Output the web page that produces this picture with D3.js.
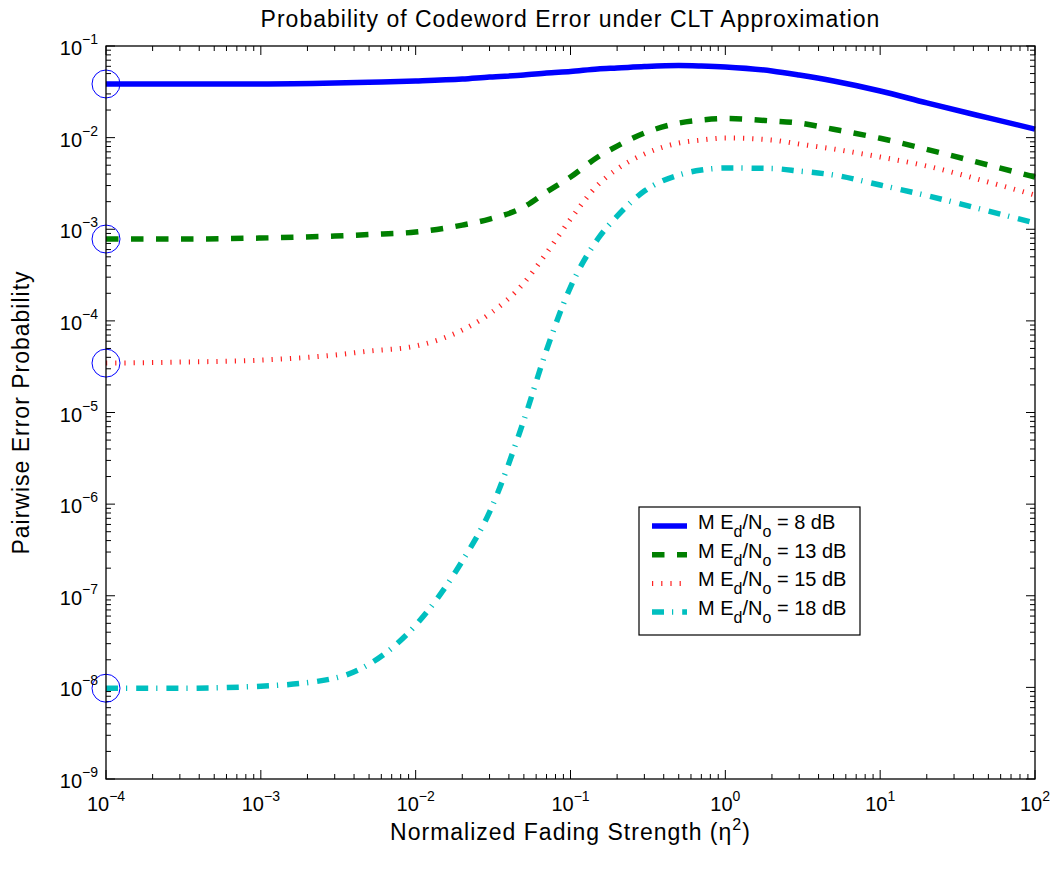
<!doctype html>
<html>
  <head>
    <meta charset="utf-8">
    <title>Probability of Codeword Error under CLT Approximation</title>
    <script src="https://cdnjs.cloudflare.com/ajax/libs/d3/7.8.5/d3.min.js"></script>
    <style>
      body { margin: 0; background: #fff; }
      text { font-family: "Liberation Sans", Arial, Helvetica, sans-serif; fill: #000; }
    </style>
  </head>
  <body>
    <div id="chart"></div>
    <script>
      // data
      const eta2 = [1e-4, 3e-4, 1e-3, 3e-3, 5e-3, 1e-2, 2e-2, 3e-2, 5e-2, 7e-2, 0.1, 0.15, 0.2, 0.3, 0.5, 0.7, 1, 2, 3, 5, 10, 20, 50, 100];
      const pe8dB = [0.0385, 0.0385, 0.0385, 0.0394, 0.0402, 0.0415, 0.0436, 0.0459, 0.0482, 0.0507, 0.0527, 0.0561, 0.0575, 0.0597, 0.0613, 0.0605, 0.059, 0.0534, 0.0482, 0.0415, 0.0323, 0.0239, 0.0164, 0.0124];
      const pe13dB = [7.82e-4, 7.82e-4, 8.02e-4, 8.43e-4, 8.75e-4, 9.32e-4, 1.11e-3, 1.29e-3, 1.75e-3, 2.55e-3, 3.71e-3, 6.14e-3, 8.09e-3, 0.01122, 0.01442, 0.01555, 0.01614, 0.0152, 0.0144, 0.01233, 0.00983, 0.00745, 0.00502, 0.00371];
      const pe15dB = [3.46e-5, 3.55e-5, 3.73e-5, 4.24e-5, 4.68e-5, 5.31e-5, 7.94e-5, 1.19e-4, 2.59e-4, 5.5e-4, 1.29e-3, 3.04e-3, 4.54e-3, 6.62e-3, 8.73e-3, 9.41e-3, 9.9e-3, 9.41e-3, 8.51e-3, 7.51e-3, 6.14e-3, 4.9e-3, 3.27e-3, 2.36e-3];
      const pe18dB = [9.79e-9, 9.79e-9, 1.03e-8, 1.26e-8, 1.79e-8, 4.78e-8, 2.39e-7, 8.18e-7, 8.26e-6, 4.8e-5, 2.34e-4, 7.82e-4, 1.39e-3, 2.61e-3, 3.91e-3, 4.43e-3, 4.66e-3, 4.6e-3, 4.32e-3, 3.91e-3, 3.04e-3, 2.33e-3, 1.58e-3, 1.17e-3];
      const snrLabels = ['8', '13', '15', '18'];
      const xTickExps = [-4, -3, -2, -1, 0, 1, 2];
      const yTickExps = [-9, -8, -7, -6, -5, -4, -3, -2, -1];

      const series = [
        { snr: snrLabels[0], values: pe8dB, color: '#0000ff', width: 5.5, dash: null },
        { snr: snrLabels[1], values: pe13dB, color: '#007f00', width: 5.5, dash: '12.5,12.5' },
        { snr: snrLabels[2], values: pe15dB, color: '#ff2020', width: 5, dash: '1.2,8' },
        { snr: snrLabels[3], values: pe18dB, color: '#00bfbf', width: 5.5, dash: '12,8,1.2,9' }
      ];

      const W = 1055, H = 878;
      const m = { left: 106, top: 46, right: 20, bottom: 99 };
      const pw = W - m.left - m.right, ph = H - m.top - m.bottom;

      const x = d3.scaleLog().domain([1e-4, 1e2]).range([0, pw]);
      const y = d3.scaleLog().domain([1e-9, 1e-1]).range([ph, 0]);

      const svg = d3.select('#chart').append('svg')
        .attr('width', W).attr('height', H);
      const g = svg.append('g').attr('transform', `translate(${m.left},${m.top})`);

      // minor + major ticks on all four sides, pointing inwards
      const minorX = [], minorY = [];
      xTickExps.slice(0, -1).forEach(e => { for (let k = 2; k < 10; k++) minorX.push(k * Math.pow(10, e)); });
      yTickExps.slice(0, -1).forEach(e => { for (let k = 2; k < 10; k++) minorY.push(k * Math.pow(10, e)); });
      const ticks = g.append('g').attr('stroke', '#000').attr('stroke-width', 1);
      const majLen = 9, minLen = 5;
      xTickExps.forEach(e => {
        const px = x(Math.pow(10, e));
        ticks.append('line').attr('x1', px).attr('x2', px).attr('y1', ph).attr('y2', ph - majLen);
        ticks.append('line').attr('x1', px).attr('x2', px).attr('y1', 0).attr('y2', majLen);
      });
      minorX.forEach(v => {
        const px = x(v);
        ticks.append('line').attr('x1', px).attr('x2', px).attr('y1', ph).attr('y2', ph - minLen);
        ticks.append('line').attr('x1', px).attr('x2', px).attr('y1', 0).attr('y2', minLen);
      });
      yTickExps.forEach(e => {
        const py = y(Math.pow(10, e));
        ticks.append('line').attr('x1', 0).attr('x2', majLen).attr('y1', py).attr('y2', py);
        ticks.append('line').attr('x1', pw).attr('x2', pw - majLen).attr('y1', py).attr('y2', py);
      });
      minorY.forEach(v => {
        const py = y(v);
        ticks.append('line').attr('x1', 0).attr('x2', minLen).attr('y1', py).attr('y2', py);
        ticks.append('line').attr('x1', pw).attr('x2', pw - minLen).attr('y1', py).attr('y2', py);
      });

      // curves
      const line = d3.line()
        .x((d, i) => x(eta2[i]))
        .y(d => y(d))
        .curve(d3.curveMonotoneX);
      series.forEach(s => {
        g.append('path')
          .attr('d', line(s.values))
          .attr('fill', 'none')
          .attr('stroke', s.color)
          .attr('stroke-width', s.width)
          .attr('stroke-dasharray', s.dash);
      });

      // open circles at the first point of each curve
      g.selectAll('circle.start')
        .data(series)
        .join('circle')
        .attr('class', 'start')
        .attr('cx', x(eta2[0]))
        .attr('cy', d => y(d.values[0]))
        .attr('r', 14)
        .attr('fill', 'none')
        .attr('stroke', '#0000ff')
        .attr('stroke-width', 1);

      // frame
      g.append('rect').attr('width', pw).attr('height', ph)
        .attr('fill', 'none').attr('stroke', '#000').attr('stroke-width', 1.3);

      // tick labels
      xTickExps.forEach(e => {
        const t = g.append('text')
          .attr('x', x(Math.pow(10, e)))
          .attr('y', ph + 32)
          .attr('text-anchor', 'middle')
          .style('font-size', '20px');
        t.append('tspan').text('10');
        t.append('tspan').attr('dy', -10).style('font-size', '14px').text(e < 0 ? '\u2212' + (-e) : e);
      });
      yTickExps.forEach(e => {
        const t = g.append('text')
          .attr('x', -8)
          .attr('y', y(Math.pow(10, e)) + 9)
          .attr('text-anchor', 'end')
          .style('font-size', '20px');
        t.append('tspan').text('10');
        t.append('tspan').attr('dy', -11).style('font-size', '14px').text('\u2212' + (-e));
      });

      // title and axis labels
      svg.append('text')
        .attr('x', m.left + pw / 2).attr('y', 27)
        .attr('text-anchor', 'middle')
        .style('font-size', '23px')
        .style('letter-spacing', '1px')
        .text('Probability of Codeword Error under CLT Approximation');

      const xl = svg.append('text')
        .attr('x', m.left + pw / 2).attr('y', 840)
        .attr('text-anchor', 'middle')
        .style('font-size', '23px')
        .style('letter-spacing', '1px');
      xl.append('tspan').text('Normalized Fading Strength (\u03b7');
      xl.append('tspan').attr('dy', -10).style('font-size', '16px').text('2');
      xl.append('tspan').attr('dy', 10).text(')');

      svg.append('text')
        .attr('transform', `translate(29,${m.top + ph / 2}) rotate(-90)`)
        .attr('text-anchor', 'middle')
        .style('font-size', '23px')
        .style('letter-spacing', '1px')
        .text('Pairwise Error Probability');

      // legend
      const lg = svg.append('g').attr('transform', 'translate(639,507)');
      lg.append('rect').attr('width', 221).attr('height', 128)
        .attr('fill', '#fff').attr('stroke', '#000').attr('stroke-width', 1.2);
      series.forEach((s, i) => {
        const ry = 19 + i * 28.7;
        lg.append('line')
          .attr('x1', 13).attr('x2', 48).attr('y1', ry).attr('y2', ry)
          .attr('stroke', s.color)
          .attr('stroke-width', s.width)
          .attr('stroke-dasharray', s.dash);
        const t = lg.append('text')
          .attr('x', 59).attr('y', ry + 3)
          .style('font-size', '20px');
        t.append('tspan').text('M E');
        t.append('tspan').attr('dy', 8).style('font-size', '16px').text('d');
        t.append('tspan').attr('dy', -8).text('/N');
        t.append('tspan').attr('dy', 8).style('font-size', '16px').text('o');
        t.append('tspan').attr('dy', -8).text(` = ${s.snr} dB`);
      });
    </script>
  </body>
</html>
